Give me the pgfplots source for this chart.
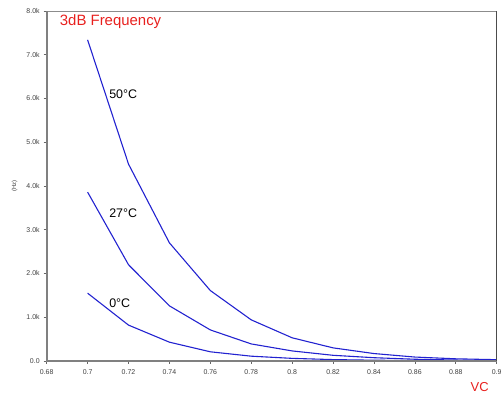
\documentclass[border=0pt]{standalone}
\usepackage{pgfplots}
\pgfplotsset{compat=1.18}
\usepackage{fontspec}
\setmainfont{Liberation Sans}
\definecolor{lineblue}{HTML}{2222D0}
\definecolor{labred}{HTML}{E8201E}
\begin{document}
\begin{tikzpicture}
\begin{axis}[
  name=ax,
  scale only axis,
  width=450bp, height=350bp,
  xmin=0.68, xmax=0.9, ymin=0, ymax=8000,
  xtick={0.68,0.70,...,0.901},
  xticklabels={0.68,0.7,0.72,0.74,0.76,0.78,0.8,0.82,0.84,0.86,0.88,0.9},
  ytick={0,1000,...,8000},
  yticklabels={0.0,1.0k,2.0k,3.0k,4.0k,5.0k,6.0k,7.0k,8.0k},
  tick label style={font=\fontsize{7}{8}\selectfont, text=black!75},
  /pgf/number format/assume math mode=true,
  tick align=outside,
  xtick pos=bottom, ytick pos=left,
  major tick length=3bp,
  tick style={black!60, line width=0.6pt},
  axis line style={black!45, line width=0.8pt},
  xticklabel style={yshift=-2bp},
  yticklabel style={xshift=-0.5bp},
  clip=false,
]
\addplot[lineblue, line width=1.1pt] coordinates {
 (0.70,7340) (0.72,4500) (0.74,2700) (0.76,1610) (0.78,940) (0.80,530)
 (0.82,300) (0.84,170) (0.86,90) (0.88,50) (0.90,30)};
\addplot[lineblue, line width=1.1pt] coordinates {
 (0.70,3860) (0.72,2200) (0.74,1260) (0.76,710) (0.78,390) (0.80,230)
 (0.82,130) (0.84,75) (0.86,40) (0.88,22) (0.90,12)};
\addplot[lineblue, line width=1.1pt] coordinates {
 (0.70,1550) (0.72,820) (0.74,430) (0.76,210) (0.78,110) (0.80,60)
 (0.82,32) (0.84,18) (0.86,10) (0.88,6) (0.90,4)};
\draw[black!50, line width=2pt] (rel axis cs:0,0) -- (rel axis cs:0,1);
\draw[black!50, line width=2pt] (rel axis cs:0,0) -- (rel axis cs:1,0);
\draw[black!70, line width=1pt] (rel axis cs:1,0) -- (rel axis cs:1,1);
\node[anchor=west, font=\fontsize{12.5}{14}\selectfont, inner sep=0pt] at (axis cs:0.7105,6100) {50°C};
\node[anchor=west, font=\fontsize{12.5}{14}\selectfont, inner sep=0pt] at (axis cs:0.7105,3380) {27°C};
\node[anchor=west, font=\fontsize{12.5}{14}\selectfont, inner sep=0pt] at (axis cs:0.7105,1330) {0°C};
\node[anchor=west, text=labred, font=\fontsize{15}{17}\selectfont, inner sep=0pt] at ([shift={(13bp,-11bp)}]rel axis cs:0,1) {3dB Frequency};
\node[text=labred, font=\fontsize{13}{15}\selectfont, inner sep=0pt] at ([shift={(-17bp,-26.5bp)}]rel axis cs:1,0) {VC};
\node[rotate=90, font=\fontsize{6}{7}\selectfont, text=black!75, inner sep=0pt] at ([shift={(-32bp,0bp)}]rel axis cs:0,0.5) {(Hz)};
\end{axis}
\pgfresetboundingbox
\path ([shift={(-46.7bp,-34bp)}]ax.south west) rectangle ([shift={(4.3bp,11bp)}]ax.north east);
\end{tikzpicture}
\end{document}
